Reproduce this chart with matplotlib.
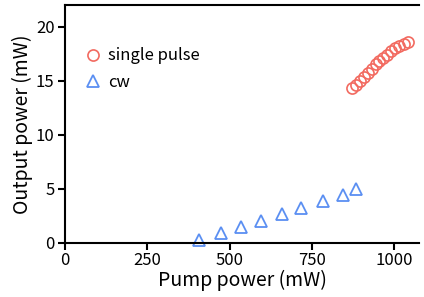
import matplotlib
matplotlib.use('Agg')
import matplotlib.pyplot as plt

plt.rcParams['font.family'] = ['Noto Sans CJK JP', 'DejaVu Sans']

# data
pulse_pump = [871, 883, 895, 907, 919, 931, 943, 955, 967, 979, 991, 1003, 1015, 1028, 1042]
pulse_out = [14.3, 14.6, 15.0, 15.3, 15.7, 16.1, 16.5, 16.8, 17.1, 17.4, 17.7, 18.0, 18.2, 18.4, 18.6]

cw_pump = [408, 473, 534, 595, 658, 717, 782, 845, 883]
cw_out = [0.25, 0.93, 1.43, 2.04, 2.66, 3.19, 3.84, 4.46, 5.0]

xticks = [0, 250, 500, 750, 1000]
yticks = [0, 5, 10, 15, 20]

fig = plt.figure(figsize=(4.24, 2.97), dpi=100)
ax = fig.add_axes([65/424, 1 - 242.7/297, (419-65)/424, (242.7-5)/297])

ax.plot(pulse_pump, pulse_out, 'o', ls='none', mfc='none', mec='#f26a60',
        ms=8, mew=1.2, label='single pulse', clip_on=False)
ax.plot(cw_pump, cw_out, '^', ls='none', mfc='none', mec='#5b8ff2',
        ms=8.5, mew=1.3, label='cw', clip_on=False)

ax.set_xlim(0, 1075)
ax.set_ylim(0, 22)
ax.set_xticks(xticks)
ax.set_yticks(yticks)
ax.spines['right'].set_visible(False)
for s in ['left', 'bottom', 'top']:
    ax.spines[s].set_linewidth(1.5)
ax.tick_params(direction='out', length=5, width=1.5, labelsize=12, pad=2)
ax.tick_params(axis='y', pad=2.5)

ax.set_xlabel('Pump power (mW)', fontsize=14, labelpad=0)
ax.set_ylabel('Output power (mW)', fontsize=14, labelpad=2)

ax.legend(loc='upper left', bbox_to_anchor=(0.01, 0.885), frameon=False,
          fontsize=12, handletextpad=0.35, handlelength=1.1, labelspacing=0.55)

fig.savefig('out.png', dpi=100)
